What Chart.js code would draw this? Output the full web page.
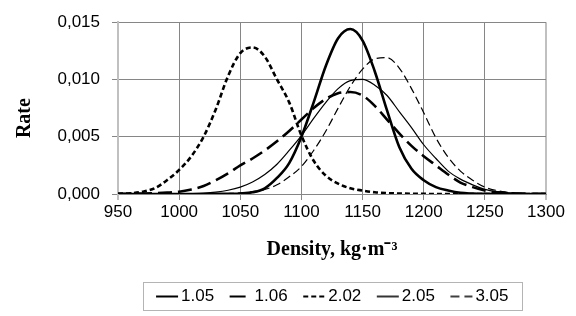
<!DOCTYPE html>
<html>
<head>
<meta charset="utf-8">
<script src="https://cdn.jsdelivr.net/npm/chart.js@4/dist/chart.umd.min.js"></script>
<style>
  html, body { margin: 0; padding: 0; background: #fff; }
  #wrap { width: 576px; height: 316px; }
</style>
</head>
<body>
<div id="wrap"><canvas id="c" width="576" height="316"></canvas></div>
<script>
// ---- data ----
const densities = [950,960,970,980,990,1000,1010,1020,1030,1040,1050,1060,1070,1080,1090,1100,1110,1120,1130,1140,1150,1160,1170,1180,1190,1200,1210,1220,1230,1240,1250,1260,1270,1280,1290,1300];
const seriesNames = ['1.05', '1.06', '2.02', '2.05', '3.05'];
const rate105 = [0,0,0,0,0,0,0,0,0.00001,0.00002,0.00005,0.00015,0.0005,0.0014,0.0027,0.0050,0.0080,0.0112,0.0136,0.0144,0.0134,0.0107,0.0073,0.0041,0.0022,0.0012,0.0006,0.0003,0.0001,0.00004,0.00001,0,0,0,0,0];
const rate106 = [0.00001,0.00002,0.00004,0.00007,0.00012,0.0002,0.0004,0.0007,0.0012,0.0018,0.0025,0.0031,0.0038,0.0046,0.0055,0.0065,0.0075,0.0083,0.0088,0.0089,0.0086,0.0077,0.0065,0.0053,0.0042,0.0033,0.0025,0.0017,0.0010,0.0006,0.0003,0.00015,0.00008,0.00004,0.00002,0.00001];
const rate202 = [0.00002,0.00006,0.0002,0.0005,0.0012,0.0021,0.0033,0.0050,0.0074,0.0103,0.0123,0.0128,0.0120,0.0100,0.0080,0.0051,0.0029,0.0016,0.0009,0.0005,0.0003,0.00015,0.00008,0.00004,0.00002,0.00001,0,0,0,0,0,0,0,0,0,0];
const rate205 = [0,0,0,0,0.00001,0.00002,0.00004,0.00008,0.00017,0.00033,0.0006,0.00105,0.0017,0.0026,0.0038,0.0051,0.0066,0.0080,0.0092,0.0099,0.0100,0.0095,0.0086,0.0072,0.0058,0.0043,0.0031,0.0020,0.0013,0.0008,0.0004,0.0002,0.0001,0.00005,0.00002,0.00001];
const rate305 = [0,0,0,0,0,0,0,0,0.00001,0.00004,0.00009,0.0002,0.0004,0.0008,0.0015,0.0024,0.0038,0.0055,0.0075,0.0094,0.0109,0.0118,0.0119,0.0110,0.0092,0.0071,0.0049,0.0032,0.0020,0.0012,0.0006,0.0003,0.00012,0.00005,0.00002,0.00001];
const xTickLabels = ['950','1000','1050','1100','1150','1200','1250','1300'];
const yTickLabels = ['0,000','0,005','0,010','0,015'];
const xTitle = 'Density, kg\u00B7m\u207B\u00B3';
const yTitle = 'Rate';

// ---- styles ----
const styles = [
  { borderWidth: 2.6, borderDash: [],      legendDash: [],     legendWidth: 2 },
  { borderWidth: 2.6, borderDash: [14, 6], legendDash: [16, 6], legendWidth: 2 },
  { borderWidth: 2.6, borderDash: [5, 3],  legendDash: [5, 3], legendWidth: 2 },
  { borderWidth: 1.2, borderDash: [],      legendDash: [],     legendWidth: 1.6 },
  { borderWidth: 1.2, borderDash: [8, 4],  legendDash: [9, 5], legendWidth: 1.6 }
];
const allRates = [rate105, rate106, rate202, rate205, rate305];

// small legend line samples (drawn into their own canvases)
function makeSample(st) {
  const cv = document.createElement('canvas');
  cv.width = 34; cv.height = 6;
  const g = cv.getContext('2d');
  g.strokeStyle = '#000';
  g.lineWidth = st.legendWidth;
  g.setLineDash(st.legendDash);
  g.beginPath();
  g.moveTo(9, 3);
  g.lineTo(31, 3);
  g.stroke();
  return cv;
}
const samples = styles.map(makeSample);

const datasets = seriesNames.map((name, k) => ({
  label: name,
  data: densities.map((d, i) => ({ x: d, y: allRates[k][i] })),
  borderColor: '#000',
  backgroundColor: '#000',
  borderWidth: styles[k].borderWidth,
  borderDash: styles[k].borderDash,
  pointRadius: 0,
  pointHoverRadius: 0,
  fill: false,
  cubicInterpolationMode: 'monotone'
}));

const GRID = '#868686';
const EDGE = '#c0c0c0';

const legendBorder = {
  id: 'legendBorder',
  afterDraw(chart) {
    const lg = chart.legend;
    if (!lg || !lg.legendHitBoxes || !lg.legendHitBoxes.length) return;
    const hb = lg.legendHitBoxes;
    let minL = Infinity, maxR = -Infinity, top = Infinity, bot = -Infinity;
    hb.forEach(b => {
      minL = Math.min(minL, b.left);
      maxR = Math.max(maxR, b.left + b.width);
      top = Math.min(top, b.top);
      bot = Math.max(bot, b.top + b.height);
    });
    const ctx = chart.ctx;
    ctx.save();
    ctx.strokeStyle = '#b4b4b4';
    ctx.lineWidth = 1;
    ctx.strokeRect(Math.round(minL - 13) + 0.5, Math.round(top - 6) + 0.5,
                   Math.round(maxR - minL + 26), Math.round(bot - top + 11));
    ctx.restore();
  }
};

new Chart(document.getElementById('c'), {
  type: 'line',
  data: { datasets },
  options: {
    responsive: false,
    animation: false,
    events: [],
    layout: { padding: { left: 0, right: 30, top: 18, bottom: 1 } },
    plugins: {
      tooltip: { enabled: false },
      legend: {
        position: 'bottom',
        fullSize: false,
        labels: {
          usePointStyle: true,
          pointStyleWidth: 17,
          padding: 15,
          color: '#000',
          font: { family: '"Liberation Sans", Arial, sans-serif', size: 17 },
          generateLabels(chart) {
            return chart.data.datasets.map((ds, i) => ({
              text: ds.label,
              fillStyle: '#000',
              strokeStyle: '#000',
              lineWidth: 0,
              pointStyle: samples[i],
              fontColor: '#000',
              hidden: false,
              datasetIndex: i
            }));
          }
        }
      }
    },
    scales: {
      x: {
        type: 'linear',
        min: 950,
        max: 1300,
        afterFit(scale) { scale.height = 79; },
        ticks: {
          stepSize: 50,
          padding: 2,
          color: '#000',
          maxRotation: 0,
          font: { family: '"Liberation Sans", Arial, sans-serif', size: 17 },
          callback: (v, i) => xTickLabels[i]
        },
        grid: {
          color: (c) => (c.index === 0 || c.index === xTickLabels.length - 1) ? EDGE : GRID,
          lineWidth: (c) => (c.index === 0 || c.index === xTickLabels.length - 1) ? 2 : 1,
          tickLength: 6
        },
        border: { display: true, color: GRID, width: 1 },
        title: {
          display: true,
          text: xTitle,
          color: '#000',
          padding: { top: 0, bottom: 11 },
          font: { family: '"Liberation Serif", "Times New Roman", serif', size: 20, weight: 'bold' }
        }
      },
      y: {
        min: 0,
        max: 0.015,
        afterFit(scale) { scale.width = 118; },
        ticks: {
          stepSize: 0.005,
          padding: 12,
          color: '#000',
          font: { family: '"Liberation Sans", Arial, sans-serif', size: 17 },
          callback: (v, i) => yTickLabels[i]
        },
        grid: { color: GRID, lineWidth: 1, tickLength: 6 },
        border: { display: true, color: EDGE, width: 2 },
        title: {
          display: true,
          text: yTitle + '    ',
          color: '#000',
          padding: { top: 13, bottom: 0 },
          font: { family: '"Liberation Serif", "Times New Roman", serif', size: 20, weight: 'bold' }
        }
      }
    }
  },
  plugins: [legendBorder]
});
</script>
</body>
</html>
